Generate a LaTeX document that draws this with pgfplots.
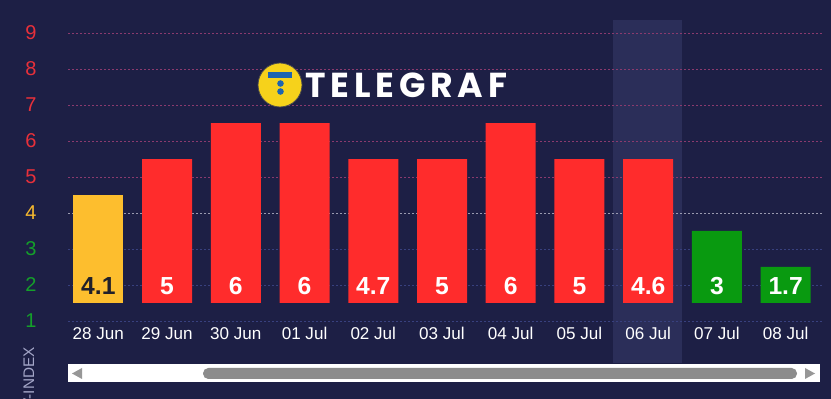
\documentclass[border=0pt]{standalone}
\usepackage{pgfplots}
\pgfplotsset{compat=1.18}
\usepackage{fontspec}
\setmainfont{Liberation Sans}
\newfontfamily\logofont{Poppins}[LetterSpace=14]
\definecolor{bg}{HTML}{1D1F45}
\definecolor{hl}{HTML}{2B2E59}
\definecolor{gridred}{HTML}{8A3A6E}
\definecolor{gridwhite}{HTML}{9A9AB0}
\definecolor{gridblue}{HTML}{38407E}
\definecolor{baryellow}{HTML}{FDBE2E}
\definecolor{barred}{HTML}{FF2C2C}
\definecolor{bargreen}{HTML}{099A10}
\definecolor{labdark}{HTML}{20202A}
\definecolor{tickred}{HTML}{E8303A}
\definecolor{tickyellow}{HTML}{F5B82E}
\definecolor{tickgreen}{HTML}{14A02A}
\definecolor{logoyellow}{HTML}{F6D21B}
\definecolor{logoblue}{HTML}{1D64B0}
\definecolor{idxgrey}{HTML}{A4A6C8}
\definecolor{thumb}{HTML}{8C8C8C}
\begin{document}
\begin{tikzpicture}[x=0.75pt,y=0.75pt]
\fill[bg] (0,0) rectangle (831,399);
\useasboundingbox (0,0) rectangle (831,399);
% highlight band
\fill[hl] (613,36) rectangle (682,379);
% grid lines
\foreach \v in {1,2,3}
  \draw[gridblue, line width=0.6pt, dash pattern=on 1.8pt off 1.2pt] (68,{78+36*(\v-1)}) -- (822,{78+36*(\v-1)});
\draw[gridwhite, line width=0.6pt, dash pattern=on 1.8pt off 1.2pt] (68,186) -- (822,186);
\foreach \v in {5,6,7,8,9}
  \draw[gridred, line width=0.6pt, dash pattern=on 1.8pt off 1.2pt] (68,{78+36*(\v-1)}) -- (822,{78+36*(\v-1)});
% logo
\fill[logoyellow, draw=black!70, line width=0.6pt] (280,314) circle (22);
\fill[logoblue] (268,321) rectangle (292,327);
\fill[logoblue] (280.5,315.5) circle (3.3);
\fill[logoblue] (280.5,307.5) circle (3.3);
\node[anchor=west, inner sep=0pt, text=white, font=\logofont\bfseries\fontsize{26}{28}\selectfont] at (305,314) {TELEGRAF};
% y-axis title
\node[anchor=east, rotate=90, inner sep=0pt, text=idxgrey, font=\fontsize{11.5}{13}\selectfont] at (29,52) {UV-INDEX};
% scrollbar
\fill[white] (68,17) rectangle (820,35);
\fill[thumb, rounded corners=4pt] (203,20) rectangle (797,31);
\fill[thumb!90] (72,25.5) -- (82,31) -- (82,20) -- cycle;
\fill[thumb!90] (815,25.5) -- (805,31) -- (805,20) -- cycle;

\begin{axis}[
  at={(48pt,58.5pt)}, anchor=south west,
  scale only axis, width=567pt, height=229.5pt,
  xmin=-0.5, xmax=10.5, ymin=1, ymax=9.5,
  ybar stacked, bar width=37.5pt,
  axis line style={draw=none}, major tick length=0pt,
  clip=false,
  xtick={0,...,10},
  xticklabels={28 Jun,29 Jun,30 Jun,01 Jul,02 Jul,03 Jul,04 Jul,05 Jul,06 Jul,07 Jul,08 Jul},
  xticklabel style={text=white, font=\fontsize{12.8}{14}\selectfont, anchor=base, yshift=-14.25pt},
  ytick={1,...,9},
  yticklabels={\textcolor{tickgreen}{1},\textcolor{tickgreen}{2},\textcolor{tickgreen}{3},\textcolor{tickyellow}{4},\textcolor{tickred}{5},\textcolor{tickred}{6},\textcolor{tickred}{7},\textcolor{tickred}{8},\textcolor{tickred}{9}},
  yticklabel style={font=\fontsize{15}{16}\selectfont, anchor=center, xshift=-24.75pt},
]
% invisible base 1.5
\addplot[draw=none, fill=none] coordinates {(0,1.5) (1,1.5) (2,1.5) (3,1.5) (4,1.5) (5,1.5) (6,1.5) (7,1.5) (8,1.5) (9,1.5) (10,1.5)};
\addplot[draw=none, fill=baryellow] coordinates {(0,3) (1,0) (2,0) (3,0) (4,0) (5,0) (6,0) (7,0) (8,0) (9,0) (10,0)};
\addplot[draw=none, fill=barred] coordinates {(0,0) (1,4) (2,5) (3,5) (4,4) (5,4) (6,5) (7,4) (8,4) (9,0) (10,0)};
\addplot[draw=none, fill=bargreen] coordinates {(0,0) (1,0) (2,0) (3,0) (4,0) (5,0) (6,0) (7,0) (8,0) (9,2) (10,1)};
\end{axis}

\begin{axis}[
  at={(48pt,58.5pt)}, anchor=south west,
  scale only axis, width=567pt, height=229.5pt,
  xmin=-0.5, xmax=10.5, ymin=1, ymax=9.5,
  hide axis, clip=false,
  point meta=explicit symbolic,
  every node near coord/.append style={anchor=south, inner sep=0pt, yshift=6pt, font=\bfseries\fontsize{18.5}{20}\selectfont},
]
\addplot[draw=none, nodes near coords, every node near coord/.append style={text=labdark}] coordinates {(0,1.5) [4.1]};
\addplot[draw=none, nodes near coords, every node near coord/.append style={text=white}] coordinates {(1,1.5) [5] (2,1.5) [6] (3,1.5) [6] (4,1.5) [4.7] (5,1.5) [5] (6,1.5) [6] (7,1.5) [5] (8,1.5) [4.6] (9,1.5) [3] (10,1.5) [1.7]};
\end{axis}
\end{tikzpicture}
\end{document}
